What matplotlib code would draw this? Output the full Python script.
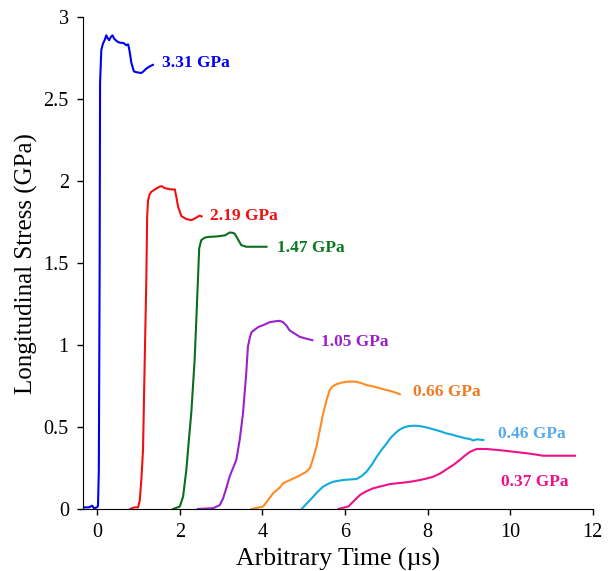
import numpy as np
import matplotlib.pyplot as plt

plt.rcParams['font.family'] = ['Liberation Serif', 'DejaVu Serif']

# stress profiles (time in us, stress in GPa)
t_331 = [-0.35, -0.2, -0.12, -0.08, 0.0, 0.02, 0.04, 0.06, 0.07, 0.10, 0.14, 0.18,
         0.22, 0.26, 0.29, 0.33, 0.37, 0.41, 0.45, 0.50, 0.55, 0.64, 0.70, 0.75, 0.78,
         0.83, 0.89, 0.95, 1.07, 1.12, 1.19, 1.27, 1.35]
s_331 = [0.01, 0.01, 0.02, 0.005, 0.01, 0.02, 0.24, 1.5, 2.60, 2.80, 2.84, 2.86,
         2.89, 2.87, 2.86, 2.88, 2.89, 2.87, 2.86, 2.85, 2.845, 2.843, 2.83, 2.835, 2.80,
         2.72, 2.67, 2.665, 2.66, 2.67, 2.687, 2.70, 2.71]

t_219 = [0.80, 0.90, 0.99, 1.03, 1.07, 1.11, 1.15, 1.19, 1.21, 1.23, 1.27, 1.31, 1.43,
         1.50, 1.56, 1.62, 1.68, 1.78, 1.88, 1.92, 1.96, 2.04, 2.15, 2.28, 2.38, 2.48, 2.53]
s_219 = [0.0, 0.01, 0.01, 0.05, 0.18, 0.36, 0.89, 1.40, 1.78, 1.88, 1.92, 1.935, 1.955,
         1.965, 1.97, 1.96, 1.955, 1.95, 1.95, 1.90, 1.843, 1.787, 1.77, 1.762, 1.775, 1.79, 1.785]

t_147 = [1.84, 2.00, 2.08, 2.16, 2.22, 2.28, 2.36, 2.40, 2.44, 2.47, 2.52, 2.60, 2.69,
         2.85, 2.97, 3.10, 3.21, 3.28, 3.33, 3.42, 3.49, 3.61, 3.80, 4.10]
s_147 = [0.0, 0.015, 0.075, 0.24, 0.42, 0.59, 0.91, 1.15, 1.40, 1.59, 1.64, 1.655, 1.66,
         1.662, 1.665, 1.67, 1.687, 1.685, 1.68, 1.64, 1.61, 1.60, 1.60, 1.60]

t_105 = [2.44, 2.81, 2.97, 3.05, 3.13, 3.21, 3.37, 3.45, 3.53, 3.61, 3.65, 3.70, 3.74,
         3.90, 4.05, 4.18, 4.30, 4.42, 4.50, 4.58, 4.66, 4.75, 4.91, 5.05, 5.21]
s_105 = [0.0, 0.005, 0.024, 0.065, 0.13, 0.20, 0.30, 0.42, 0.58, 0.83, 0.99, 1.05, 1.08,
         1.11, 1.125, 1.14, 1.145, 1.148, 1.14, 1.12, 1.09, 1.075, 1.05, 1.04, 1.03]

t_066 = [3.74, 4.02, 4.14, 4.26, 4.42, 4.50, 4.70, 4.91, 5.05, 5.15, 5.22, 5.31, 5.39,
         5.47, 5.55, 5.63, 5.70, 5.80, 5.92, 6.04, 6.16, 6.28, 6.40, 6.52, 6.70, 6.85,
         7.00, 7.17, 7.33]
s_066 = [0.0, 0.015, 0.055, 0.096, 0.13, 0.157, 0.18, 0.205, 0.225, 0.248, 0.30, 0.38, 0.48,
         0.58, 0.66, 0.726, 0.748, 0.762, 0.771, 0.776, 0.778, 0.776, 0.768, 0.756, 0.747, 0.736,
         0.726, 0.715, 0.70]

t_046 = [4.95, 5.10, 5.23, 5.35, 5.47, 5.59, 5.71, 5.84, 5.96, 6.12, 6.28, 6.40, 6.52,
         6.65, 6.77, 6.89, 7.01, 7.11, 7.21, 7.31, 7.41, 7.53, 7.65, 7.77, 7.89, 8.02,
         8.14, 8.30, 8.46, 8.62, 8.70, 8.78, 8.90, 9.03, 9.10, 9.20, 9.35]
s_046 = [0.0, 0.04, 0.075, 0.108, 0.136, 0.153, 0.166, 0.172, 0.177, 0.180, 0.183, 0.200, 0.227,
         0.270, 0.319, 0.362, 0.40, 0.435, 0.46, 0.482, 0.496, 0.505, 0.508, 0.507, 0.502, 0.495,
         0.486, 0.475, 0.461, 0.452, 0.445, 0.441, 0.432, 0.427, 0.418, 0.425, 0.421]

t_037 = [5.84, 6.08, 6.22, 6.36, 6.50, 6.68, 6.90, 7.09, 7.30, 7.49, 7.65, 7.82, 7.98,
         8.14, 8.30, 8.46, 8.62, 8.78, 8.90, 9.03, 9.19, 9.43, 9.70, 9.92, 10.16, 10.40,
         10.60, 10.80, 11.20, 11.57]
s_037 = [0.0, 0.015, 0.05, 0.085, 0.106, 0.126, 0.140, 0.152, 0.158, 0.163, 0.169, 0.177, 0.186,
         0.197, 0.216, 0.242, 0.268, 0.299, 0.325, 0.349, 0.366, 0.366, 0.36, 0.354, 0.347, 0.34,
         0.333, 0.325, 0.325, 0.325]

labels = ['3.31 GPa', '2.19 GPa', '1.47 GPa', '1.05 GPa', '0.66 GPa', '0.46 GPa', '0.37 GPa']
label_x = [1.56, 2.73, 4.35, 5.43, 7.65, 9.71, 9.77]
label_y = [2.72, 1.79, 1.59, 1.02, 0.715, 0.457, 0.167]

line_colors = ['#0000ee', '#ee1111', '#0a6e1e', '#9922cc', '#ff8c22', '#11aadd', '#ee1188']
text_colors = ['#0000ee', '#ee1111', '#0a7a1e', '#9922cc', '#f07a22', '#55aaee', '#ee1188']

series = [(t_331, s_331), (t_219, s_219), (t_147, s_147), (t_105, s_105),
          (t_066, s_066), (t_046, s_046), (t_037, s_037)]

fig = plt.figure(figsize=(6.16, 5.71), dpi=100)
ax = fig.add_axes([0.1343, 0.1086, 0.8279, 0.8611])

for (t, s), lab, lx, ly, lc, tc in zip(series, labels, label_x, label_y, line_colors, text_colors):
    ax.plot(t, s, color=lc, lw=1.5)
    ax.text(lx, ly, lab, color=tc, fontsize=12.5, fontweight='bold', va='center', ha='left')

ax.set_xlim(-0.35, 12)
ax.set_ylim(0, 3)
ax.set_xticks([0, 2, 4, 6, 8, 10, 12])
ax.set_yticks([0, 0.5, 1, 1.5, 2, 2.5, 3])
ax.set_yticklabels(['0', '0.5', '1', '1.5', '2', '2.5', '3'])
ax.spines['top'].set_visible(False)
ax.spines['right'].set_visible(False)
ax.tick_params(direction='out', length=4, width=1, labelsize=14.5, pad=6)
ax.set_xlabel('Arbitrary Time (\u00b5s)', fontsize=18.5, labelpad=4)
ax.set_ylabel('Longitudinal Stress (GPa)', fontsize=18, labelpad=4)

fig.savefig('out.png', dpi=100)
